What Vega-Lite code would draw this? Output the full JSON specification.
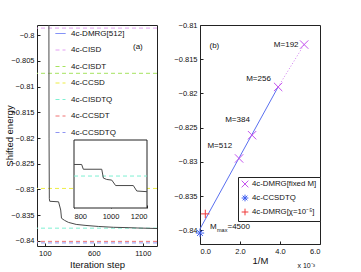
{
  "$schema": "https://vega.github.io/schema/vega-lite/v6.json",
  "padding": {"left": 4, "top": 20, "right": 2, "bottom": 2},
  "spacing": 15,
  "config": {
    "font": "Liberation Sans",
    "view": {"stroke": "#222", "strokeWidth": 1},
    "axis": {"domain": false, "grid": false, "tickSize": -3, "tickColor": "#222", "labelPadding": 6, "labelFontSize": 7.5, "labelColor": "#111", "labelOverlap": false, "titleFontSize": 9.5, "titleFontWeight": "normal", "titleColor": "#111", "labelFont": "Liberation Sans", "titleFont": "Liberation Sans"},
    "legend": {"labelFont": "Liberation Sans", "labelFontSize": 8, "labelColor": "#111"},
    "text": {"font": "Liberation Sans", "fontSize": 8, "color": "#111"}
  },
  "resolve": {"scale": {"color": "independent", "shape": "independent", "strokeDash": "independent"}, "legend": {"color": "independent", "shape": "independent", "strokeDash": "independent"}},
  "hconcat": [
    {
      "width": 120,
      "height": 221,
      "layer": [
        {
          "layer": [
            {
              "data": {"values": [
                {"method": "4c-CISD", "energy": -0.7986},
                {"method": "4c-CISDT", "energy": -0.8074},
                {"method": "4c-CCSD", "energy": -0.8298},
                {"method": "4c-CISDTQ", "energy": -0.83753},
                {"method": "4c-CCSDT", "energy": -0.8401},
                {"method": "4c-CCSDTQ", "energy": -0.8404}
              ]},
              "mark": {"type": "rule", "strokeWidth": 1},
              "encoding": {
                "y": {"field": "energy", "type": "quantitative", "scale": {"domain": [-0.841, -0.798], "nice": false, "zero": false}, "axis": {"values": [-0.84, -0.835, -0.83, -0.825, -0.82, -0.815, -0.81, -0.805, -0.8], "tickCount": 20, "format": ".3~f", "labelOverlap": false, "title": "Shifted energy", "titlePadding": -4}},
                "color": {"field": "method", "type": "nominal",
                  "scale": {"domain": ["4c-DMRG[512]", "4c-CISD", "4c-CISDT", "4c-CCSD", "4c-CISDTQ", "4c-CCSDT", "4c-CCSDTQ"], "range": ["#5b6ef5", "#e2a0f2", "#a6e35f", "#eded45", "#7ff0d2", "#f07272", "#8f95f2"]},
                  "legend": {"title": null, "orient": "none", "legendX": 18, "legendY": 3, "symbolType": "stroke", "symbolSize": 100, "symbolStrokeWidth": 1, "rowPadding": 6.5, "labelOffset": 5, "labelFontSize": 8}},
                "strokeDash": {"field": "method", "type": "nominal",
                  "scale": {"domain": ["4c-DMRG[512]", "4c-CISD", "4c-CISDT", "4c-CCSD", "4c-CISDTQ", "4c-CCSDT", "4c-CCSDTQ"], "range": [[1, 0], [4, 3], [4, 3], [4, 3], [4, 3], [4, 3], [4, 3]]},
                  "legend": {"title": null, "orient": "none", "legendX": 18, "legendY": 3, "symbolType": "stroke", "symbolSize": 100, "symbolStrokeWidth": 1, "rowPadding": 6.5, "labelOffset": 5, "labelFontSize": 8}}
              }
            },
            {
              "data": {"values": [
                {"step": 141, "energy": -0.79},
                {"step": 143, "energy": -0.82},
                {"step": 146, "energy": -0.8318},
                {"step": 150, "energy": -0.8323},
                {"step": 240, "energy": -0.8324},
                {"step": 262, "energy": -0.834},
                {"step": 270, "energy": -0.8356},
                {"step": 300, "energy": -0.836},
                {"step": 340, "energy": -0.8364},
                {"step": 420, "energy": -0.8368},
                {"step": 520, "energy": -0.837},
                {"step": 650, "energy": -0.8372},
                {"step": 800, "energy": -0.83736},
                {"step": 950, "energy": -0.83743},
                {"step": 1050, "energy": -0.8375},
                {"step": 1245, "energy": -0.8376}
              ]},
              "mark": {"type": "line", "color": "#4a4a4a", "strokeWidth": 1, "clip": true},
              "encoding": {
                "x": {"field": "step", "type": "quantitative", "scale": {"domain": [20, 1245], "nice": false, "zero": false}, "axis": {"values": [100, 600, 1100], "tickCount": 10, "format": "d", "title": "Iteration step", "titlePadding": 3}},
                "y": {"field": "energy", "type": "quantitative", "scale": {"domain": [-0.841, -0.798], "nice": false, "zero": false}}
              }
            },
            {
              "data": {"values": [{"step": 1050, "energy": -0.80233, "label": "(a)"}]},
              "mark": {"type": "text", "fontSize": 8},
              "encoding": {
                "x": {"field": "step", "type": "quantitative"},
                "y": {"field": "energy", "type": "quantitative"},
                "text": {"field": "label"}
              }
            }
          ]
        },
        {
          "layer": [
            {
              "data": {"values": [{"s0": 800, "s1": 1200, "e0": -0.838, "e1": -0.837}]},
              "mark": {"type": "rect", "fill": "white", "stroke": "#222", "strokeWidth": 1},
              "encoding": {
                "x": {"field": "s0", "type": "quantitative", "scale": {"domain": [800, 1200], "range": [37, 110], "nice": false, "zero": false}, "axis": {"orient": "bottom", "offset": -38, "values": [800, 1000, 1200], "tickCount": 10, "format": "d", "title": null, "labelPadding": 7}},
                "x2": {"field": "s1"},
                "y": {"field": "e0", "type": "quantitative", "scale": {"domain": [-0.838, -0.837], "range": [183, 115], "nice": false, "zero": false}, "axis": null},
                "y2": {"field": "e1"}
              }
            },
            {
              "data": {"values": [{"from": 800, "to": 1200, "energy": -0.83753}]},
              "mark": {"type": "rule", "color": "#7ff0d2", "strokeWidth": 1, "strokeDash": [4, 3]},
              "encoding": {
                "x": {"field": "from", "type": "quantitative"},
                "x2": {"field": "to"},
                "y": {"field": "energy", "type": "quantitative"}
              }
            },
            {
              "data": {"values": [
                {"step": 800, "energy": -0.83736},
                {"step": 842, "energy": -0.83736},
                {"step": 851, "energy": -0.83743},
                {"step": 952, "energy": -0.83743},
                {"step": 961, "energy": -0.83756},
                {"step": 979, "energy": -0.83758},
                {"step": 1007, "energy": -0.83759},
                {"step": 1028, "energy": -0.83767},
                {"step": 1125, "energy": -0.83767},
                {"step": 1144, "energy": -0.83775},
                {"step": 1200, "energy": -0.83776}
              ]},
              "mark": {"type": "line", "color": "#4a4a4a", "strokeWidth": 1},
              "encoding": {
                "x": {"field": "step", "type": "quantitative"},
                "y": {"field": "energy", "type": "quantitative"}
              }
            }
          ]
        }
      ],
      "resolve": {"scale": {"x": "independent", "y": "independent"}, "axis": {"x": "independent", "y": "independent"}}
    },
    {
      "width": 120,
      "height": 219,
      "layer": [
        {
          "data": {"values": [{"invM": 0, "energy": -0.8398}, {"invM": 3.906, "energy": -0.81905}]},
          "mark": {"type": "line", "color": "#5a70f0", "strokeWidth": 1},
          "encoding": {
            "x": {"field": "invM", "type": "quantitative", "scale": {"domain": [0, 6], "nice": false}, "axis": {"values": [0, 2, 4, 6], "tickCount": 10, "title": "1/M", "titlePadding": 1}},
            "y": {"field": "energy", "type": "quantitative", "scale": {"domain": [-0.842, -0.81], "nice": false, "zero": false}, "axis": {"values": [-0.84, -0.835, -0.83, -0.825, -0.82, -0.815, -0.81], "tickCount": 20, "format": ".3~f", "labelOverlap": false, "title": null}}
          }
        },
        {
          "data": {"values": [{"invM": 3.906, "energy": -0.81905}, {"invM": 5.208, "energy": -0.81286}]},
          "mark": {"type": "line", "color": "#d27ff2", "strokeWidth": 1, "strokeDash": [1, 2]},
          "encoding": {
            "x": {"field": "invM", "type": "quantitative"},
            "y": {"field": "energy", "type": "quantitative"}
          }
        },
        {
          "data": {"values": [
            {"series": "4c-DMRG[fixed M]", "invM": 5.208, "energy": -0.81286},
            {"series": "4c-DMRG[fixed M]", "invM": 3.906, "energy": -0.81905},
            {"series": "4c-DMRG[fixed M]", "invM": 2.604, "energy": -0.8261},
            {"series": "4c-DMRG[fixed M]", "invM": 1.953, "energy": -0.8295},
            {"series": "4c-CCSDTQ", "invM": 0, "energy": -0.8404},
            {"series": "4c-DMRG[χ=10⁻⁵]", "invM": 0.265, "energy": -0.8376}
          ]},
          "mark": {"type": "point", "filled": false, "size": 70, "strokeWidth": 1, "opacity": 1},
          "encoding": {
            "x": {"field": "invM", "type": "quantitative"},
            "y": {"field": "energy", "type": "quantitative"},
            "color": {"field": "series", "type": "nominal",
              "scale": {"domain": ["4c-DMRG[fixed M]", "4c-CCSDTQ", "4c-DMRG[χ=10⁻⁵]"], "range": ["#c452ee", "#3f5ff0", "#f03a3a"]},
              "legend": {"title": null, "orient": "none", "legendX": 38, "legendY": 152, "strokeColor": "#222", "fillColor": "white", "padding": 3, "rowPadding": 2, "symbolSize": 45, "symbolStrokeWidth": 1, "labelFontSize": 7.8, "labelOffset": 3}},
            "shape": {"field": "series", "type": "nominal",
              "scale": {"domain": ["4c-DMRG[fixed M]", "4c-CCSDTQ", "4c-DMRG[χ=10⁻⁵]"], "range": ["M-1,-1L1,1M-1,1L1,-1", "M0,-1L0,1M-1,0L1,0M-0.7,-0.7L0.7,0.7M-0.7,0.7L0.7,-0.7", "M0,-1L0,1M-1,0L1,0"]},
              "legend": {"title": null, "orient": "none", "legendX": 38, "legendY": 152, "strokeColor": "#222", "fillColor": "white", "padding": 3, "rowPadding": 2, "symbolSize": 45, "symbolStrokeWidth": 1, "labelFontSize": 7.8, "labelOffset": 3}}
          }
        },
        {
          "data": {"values": [
            {"label": "M=192", "invM": 4.31, "energy": -0.81291},
            {"label": "M=256", "invM": 2.925, "energy": -0.81785},
            {"label": "M=384", "invM": 1.875, "energy": -0.82395},
            {"label": "M=512", "invM": 0.99, "energy": -0.82773},
            {"label": "(b)", "invM": 0.72, "energy": -0.81305}
          ]},
          "mark": {"type": "text", "fontSize": 8},
          "encoding": {
            "x": {"field": "invM", "type": "quantitative"},
            "y": {"field": "energy", "type": "quantitative"},
            "text": {"field": "label"}
          }
        },
        {
          "data": {"values": [{"label": "M", "invM": 0.5, "energy": -0.8395}]},
          "mark": {"type": "text", "fontSize": 8, "align": "left"},
          "encoding": {
            "x": {"field": "invM", "type": "quantitative"},
            "y": {"field": "energy", "type": "quantitative"},
            "text": {"field": "label"}
          }
        },
        {
          "data": {"values": [{"label": "max", "invM": 0.5, "energy": -0.8395}]},
          "mark": {"type": "text", "fontSize": 5.5, "align": "left", "dx": 7, "dy": 3},
          "encoding": {
            "x": {"field": "invM", "type": "quantitative"},
            "y": {"field": "energy", "type": "quantitative"},
            "text": {"field": "label"}
          }
        },
        {
          "data": {"values": [{"label": "=4500", "invM": 0.5, "energy": -0.8395}]},
          "mark": {"type": "text", "fontSize": 8, "align": "left", "dx": 17.5},
          "encoding": {
            "x": {"field": "invM", "type": "quantitative"},
            "y": {"field": "energy", "type": "quantitative"},
            "text": {"field": "label"}
          }
        },
        {
          "data": {"values": [{"label": "x 10⁻³", "invM": 6, "energy": -0.842}]},
          "mark": {"type": "text", "fontSize": 7, "align": "right", "dx": -5, "dy": 22},
          "encoding": {
            "x": {"field": "invM", "type": "quantitative"},
            "y": {"field": "energy", "type": "quantitative"},
            "text": {"field": "label"}
          }
        }
      ]
    }
  ]
}
